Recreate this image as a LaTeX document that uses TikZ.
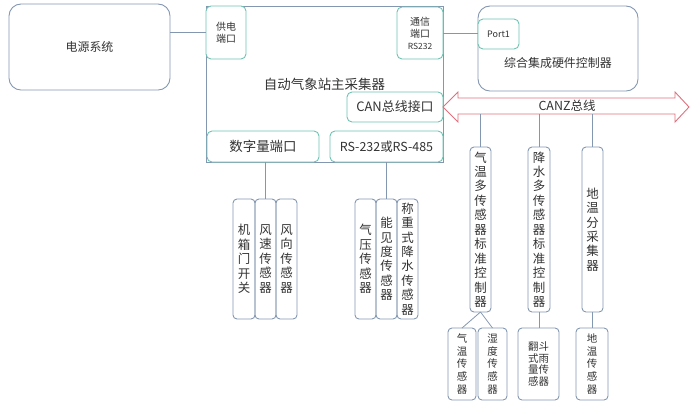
\documentclass[tikz,border=0pt]{standalone}
\usepackage{fontspec}
\setmainfont{Noto Sans CJK SC}
\definecolor{bluegray}{HTML}{8497B0}
\definecolor{tealc}{HTML}{6EC3B3}
\definecolor{busred}{HTML}{E0707E}
\definecolor{txt}{HTML}{333333}
\begin{document}
\begin{tikzpicture}[x=1bp,y=-1bp,
  every node/.style={text=txt, inner sep=0pt, outer sep=0pt},
  gbox/.style={draw=bluegray, line width=0.9pt, rounded corners=4pt, minimum width=#1},
  tbox/.style={draw=tealc, line width=0.9pt, rounded corners=5pt, fill=white},
  conn/.style={draw=bluegray, line width=0.8pt},
  vt/.style={align=center, font=\fontsize{12.5}{14.5}\selectfont},
  vs/.style={align=center, font=\fontsize{10.5}{12.6}\selectfont}
]
\useasboundingbox (0,0) rectangle (693,402);

% power system
\node[draw=bluegray, line width=0.9pt, rounded corners=12pt, minimum width=161bp, minimum height=86bp,
  font=\fontsize{12}{14}\selectfont] (power) at (89.5,47) {电源系统};

% main collector
\node[draw=bluegray, line width=0.9pt, minimum width=237bp, minimum height=156bp,
  font=\fontsize{13.5}{16}\selectfont] (main) at (324.5,84) {\raisebox{-3bp}{自动气象站主采集器}};

% ports
\node[tbox, minimum width=40bp, minimum height=53bp, align=center,
  font=\fontsize{10}{12}\selectfont] (gd) at (226,32.5) {供电\\端口};
\node[tbox, minimum width=46bp, minimum height=52bp, align=center,
  font=\fontsize{10}{12}\selectfont] (tx) at (420,33) {通信\\端口\\{\fontsize{8.5}{11}\selectfont RS232}};
\node[tbox, minimum width=96bp, minimum height=30bp,
  font=\fontsize{13}{15}\selectfont] (can) at (395,107) {CAN总线接口};
\node[tbox, minimum width=112bp, minimum height=31bp,
  font=\fontsize{13.5}{15}\selectfont] (dig) at (263,146.5) {数字量端口};
\node[tbox, minimum width=113bp, minimum height=31bp,
  font=\fontsize{12.5}{15}\selectfont] (rs) at (386.5,146.5) {RS-232或RS-485};

% integrated controller
\node[draw=bluegray, line width=0.9pt, rounded corners=12pt, minimum width=160bp, minimum height=85bp] (ctrl) at (558,48.5) {};
\node[font=\fontsize{12}{14}\selectfont] (ctrltext) at (558,63) {综合集成硬件控制器};
\node[tbox, minimum width=41bp, minimum height=30bp,
  font=\fontsize{9}{11}\selectfont] (port1) at (498.5,34) {Port1};

\draw[conn] (gd.west) -- (gd.west -| power.east);
\draw[conn] (tx.east) -- (tx.east -| port1.west);

% CAN bus
\draw[draw=busred, line width=0.9pt, fill=white]
  (443,107) -- (458,92) -- (458,98) -- (675,98) -- (675,92) -- (689,107)
  -- (675,122) -- (675,114) -- (458,114) -- (458,122) -- cycle;
\coordinate (busbot) at (566,114);
\node[font=\fontsize{12.5}{15}\selectfont] (buslabel) at (567,106) {CANZ总线};

% controllers on bus
\node[gbox=21bp, minimum height=165bp, vt] (qwc) at (480.5,229.5)
  {气\\温\\多\\传\\感\\器\\标\\准\\控\\制\\器};
\node[gbox=22bp, minimum height=165bp, vt] (jsc) at (539,229.5)
  {降\\水\\多\\传\\感\\器\\标\\准\\控\\制\\器};
\node[gbox=21bp, minimum height=165bp, vt] (dwc) at (592.5,229.5)
  {地\\温\\分\\采\\集\\器};

\draw[conn] (qwc.north |- busbot) -- (qwc.north);
\draw[conn] (jsc.north |- busbot) -- (jsc.north);
\draw[conn] (dwc.north |- busbot) -- (dwc.north);

% bottom sensors
\node[gbox=28bp, minimum height=72bp, vs] (qws) at (462,364) {气\\温\\传\\感\\器};
\node[gbox=29bp, minimum height=72bp, vs] (sds) at (492.5,364) {湿\\度\\传\\感\\器};
\node[gbox=41bp, minimum height=72bp, align=center, font=\fontsize{10.5}{12}\selectfont] (fds) at (538.5,364) {翻斗\\式雨\\量传\\感器};
\node[gbox=32bp, minimum height=72bp, vs] (dws) at (592,364) {地\\温\\传\\感\\器};

\draw[conn] (qwc.south) -- (qws.north);
\draw[conn] (qwc.south) -- (sds.north);
\draw[conn] (jsc.south) -- (jsc.south |- fds.north);
\draw[conn] (dwc.south) -- (dwc.south |- dws.north);

% digital sensors
\node[gbox=22bp, minimum height=120bp, vt] (jxm) at (244,259) {机\\箱\\门\\开\\关};
\node[gbox=21bp, minimum height=120bp, vt] (fss) at (265.5,259) {风\\速\\传\\感\\器};
\node[gbox=21bp, minimum height=120bp, vt] (fxs) at (286.5,259) {风\\向\\传\\感\\器};

% serial sensors
\node[gbox=21bp, minimum height=120bp, vt] (qys) at (365.5,259) {气\\压\\传\\感\\器};
\node[gbox=21bp, minimum height=120bp, vt] (njd) at (386.5,259) {能\\见\\度\\传\\感\\器};
\node[gbox=21bp, minimum height=120bp, vt] (czs) at (407.5,259) {称\\重\\式\\降\\水\\传\\感\\器};

\draw[conn] (fss.north |- dig.south) -- (fss.north);
\draw[conn] (rs.south) -- (njd.north);
\end{tikzpicture}
\end{document}
